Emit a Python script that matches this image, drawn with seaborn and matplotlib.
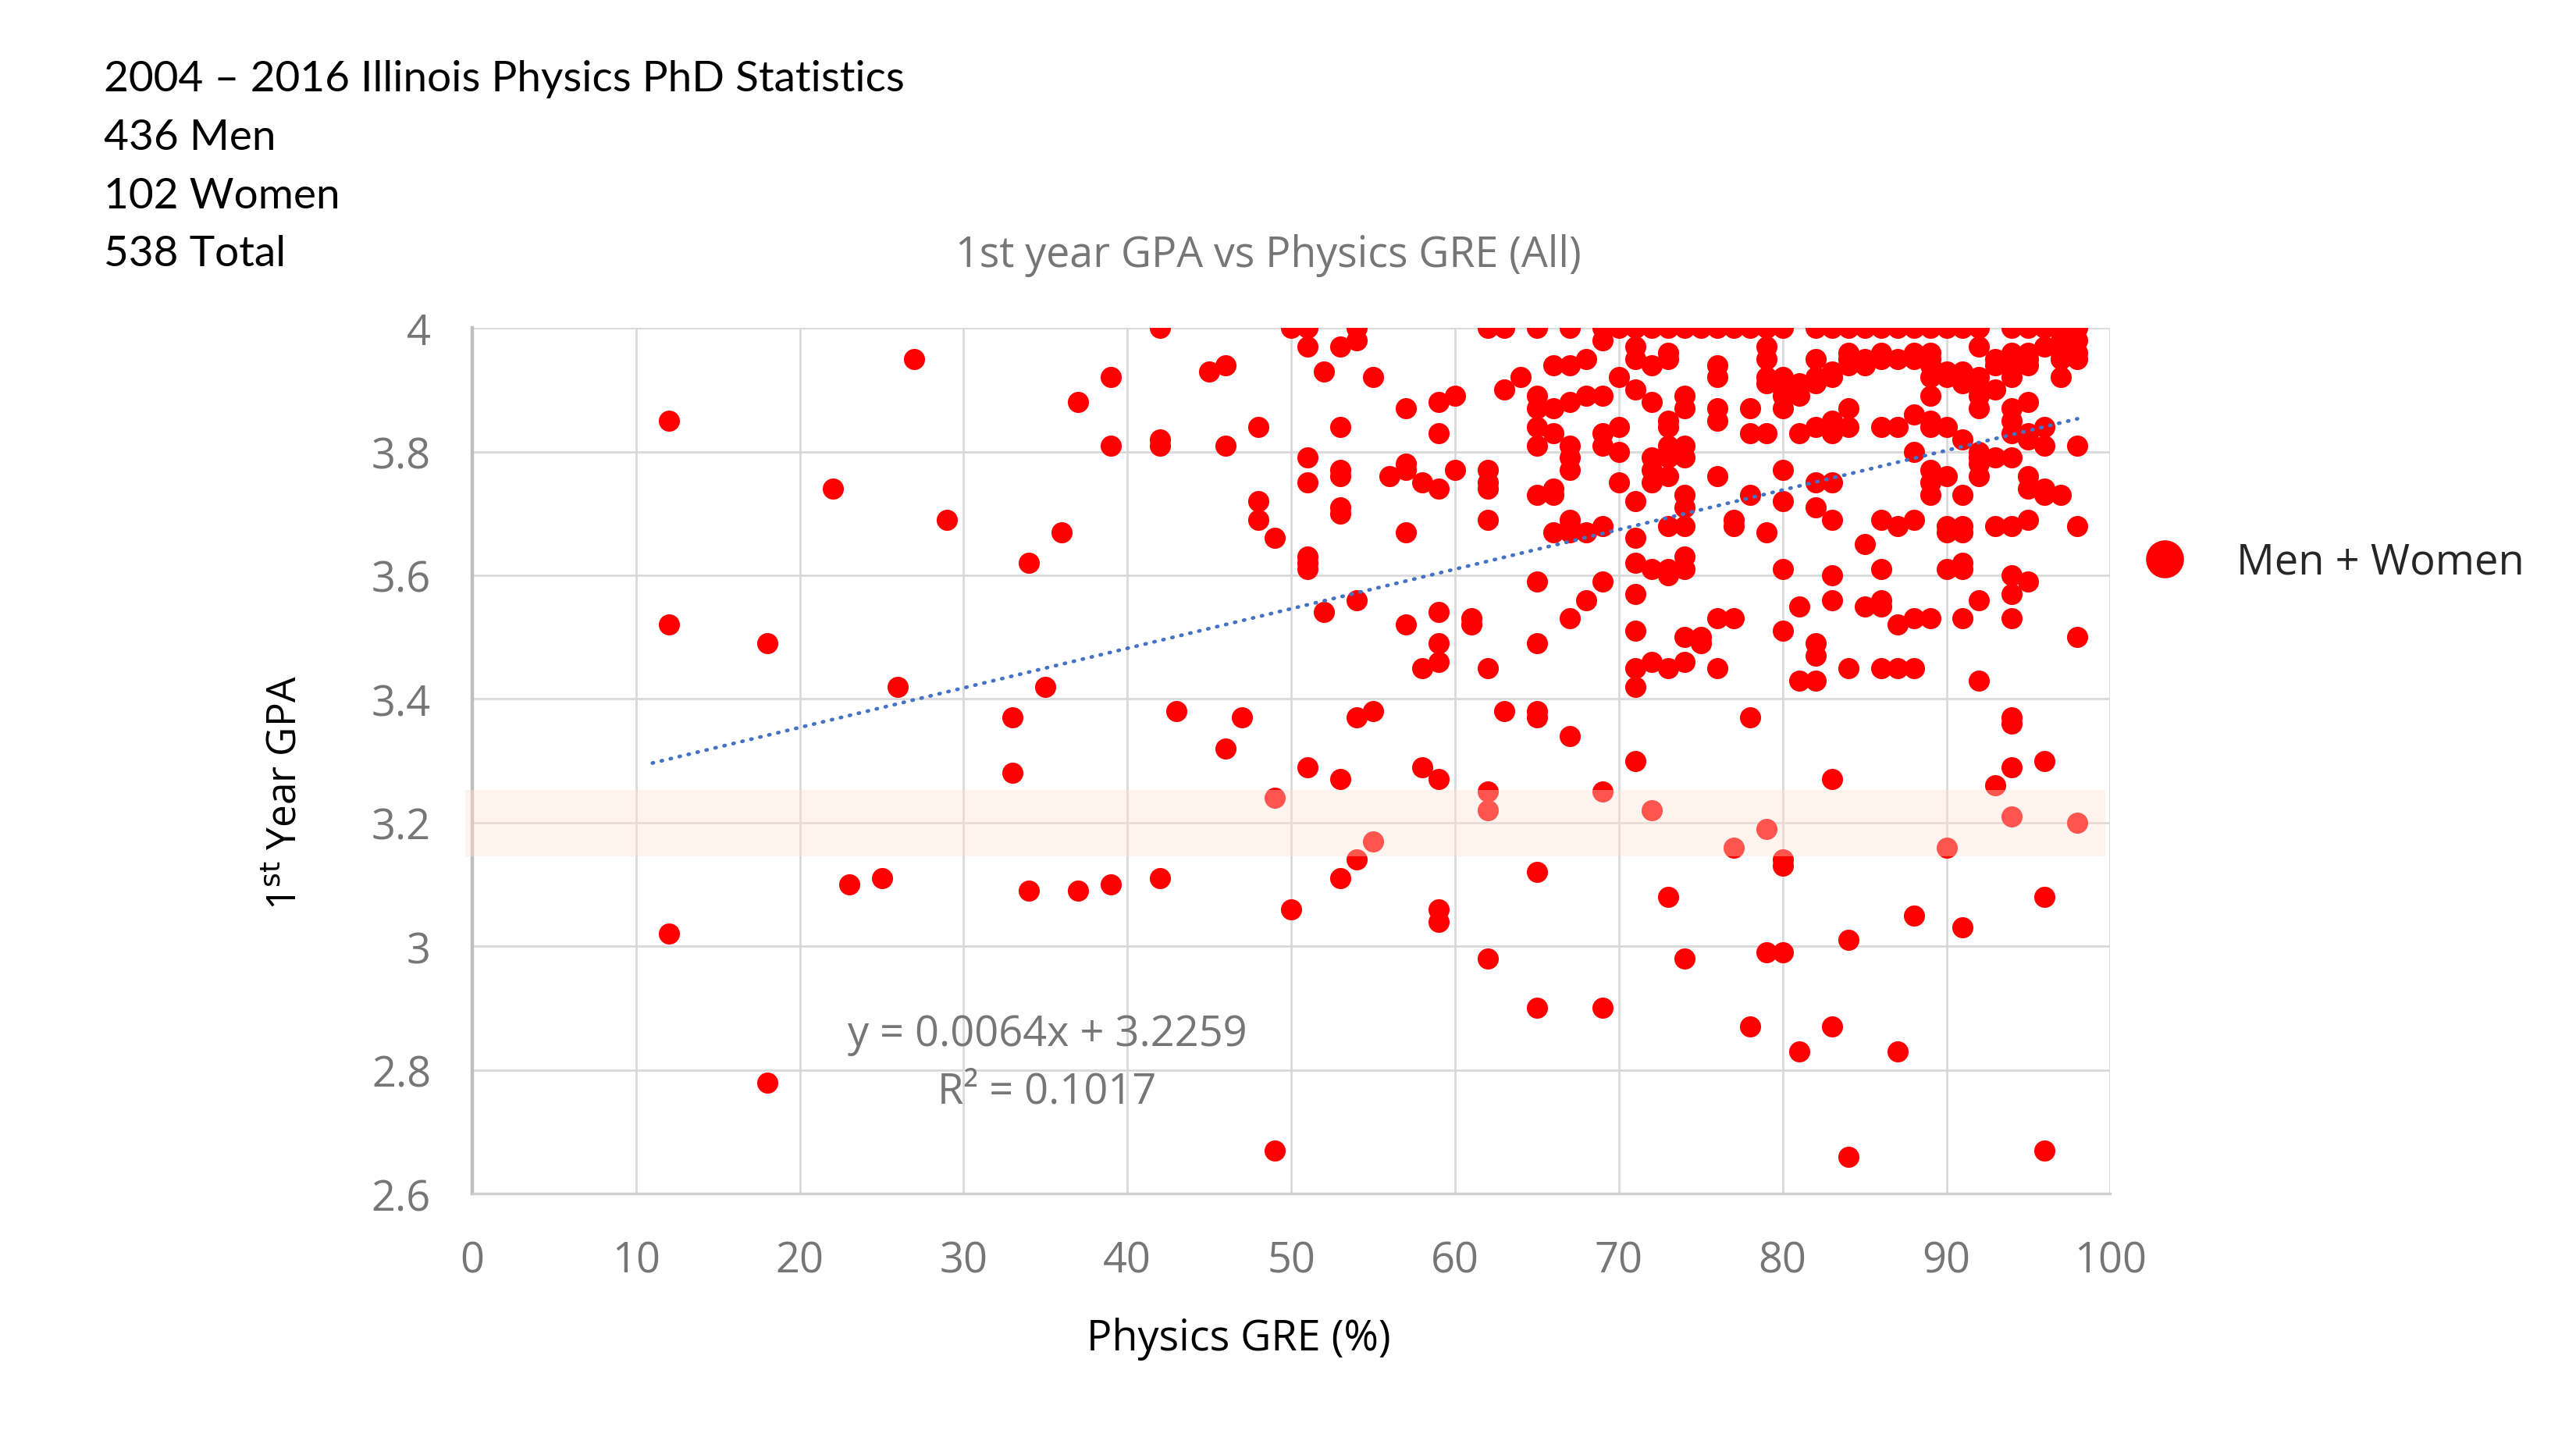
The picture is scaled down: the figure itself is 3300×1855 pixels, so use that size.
import matplotlib
matplotlib.use("Agg")
import matplotlib.pyplot as plt
from matplotlib.lines import Line2D
import numpy as np
import pandas as pd
import seaborn as sns

# GRE percentile columns and the 1st-year GPAs
GRE_COLUMNS = [12, 18, 22, 23, 25, 26, 27, 29, 33, 34, 35, 36, 37, 39, 42, 43, 45, 46, 47, 48,
               49, 50, 51, 52, 53, 54, 55, 56, 57, 58, 59, 60, 61, 62, 63, 64, 65, 66, 67, 68,
               69, 70, 71, 72, 73, 74, 75, 76, 77, 78, 79, 80, 81, 82, 83, 84, 85, 86, 87, 88,
               89, 90, 91, 92, 93, 94, 95, 96, 97, 98]

GPA_COLUMNS = [
    [3.85, 3.52, 3.02],
    [3.49, 2.78],
    [3.74],
    [3.10],
    [3.11],
    [3.42],
    [3.95],
    [3.69],
    [3.37, 3.28],
    [3.62, 3.09],
    [3.42],
    [3.67],
    [3.88, 3.09],
    [3.92, 3.81, 3.10],
    [4.00, 3.82, 3.81, 3.11],
    [3.38],
    [3.93],
    [3.94, 3.81, 3.32],
    [3.37],
    [3.84, 3.72, 3.69],
    [3.66, 3.24, 2.67],
    [4.00, 3.06],
    [4.00, 3.97, 3.79, 3.75, 3.63, 3.62, 3.61, 3.29],
    [3.93, 3.54],
    [3.97, 3.84, 3.77, 3.76, 3.71, 3.70, 3.27, 3.11],
    [4.00, 3.98, 3.56, 3.37, 3.14],
    [3.92, 3.38, 3.17],
    [3.76],
    [3.87, 3.78, 3.77, 3.67, 3.52],
    [3.75, 3.45, 3.29],
    [3.88, 3.83, 3.74, 3.54, 3.49, 3.46, 3.27, 3.06, 3.04],
    [3.89, 3.77],
    [3.53, 3.52],
    [4.00, 3.77, 3.75, 3.74, 3.69, 3.45, 3.25, 3.22, 2.98],
    [4.00, 3.90, 3.38],
    [3.92],
    [4.00, 3.89, 3.87, 3.84, 3.81, 3.73, 3.59, 3.49, 3.38, 3.37, 3.12, 2.90],
    [3.94, 3.87, 3.83, 3.74, 3.73, 3.67],
    [4.00, 3.94, 3.88, 3.81, 3.79, 3.77, 3.69, 3.68, 3.67, 3.53, 3.34],
    [3.95, 3.89, 3.67, 3.56],
    [4.00, 3.98, 3.89, 3.83, 3.81, 3.68, 3.59, 3.25, 2.90],
    [4.00, 3.92, 3.84, 3.80, 3.75],
    [4.00, 3.97, 3.95, 3.90, 3.72, 3.66, 3.62, 3.57, 3.51, 3.45, 3.42, 3.30],
    [4.00, 3.94, 3.88, 3.79, 3.77, 3.75, 3.61, 3.46, 3.22],
    [4.00, 3.96, 3.95, 3.85, 3.84, 3.81, 3.80, 3.79, 3.76, 3.68, 3.61, 3.60, 3.45, 3.08],
    [4.00, 3.89, 3.87, 3.81, 3.79, 3.73, 3.71, 3.68, 3.63, 3.61, 3.50, 3.46, 2.98],
    [4.00, 3.50, 3.49],
    [4.00, 3.94, 3.92, 3.87, 3.85, 3.76, 3.53, 3.45],
    [4.00, 3.69, 3.68, 3.53, 3.16],
    [4.00, 3.87, 3.83, 3.73, 3.37, 2.87],
    [4.00, 3.97, 3.95, 3.92, 3.91, 3.83, 3.67, 3.19, 2.99],
    [4.00, 3.92, 3.90, 3.89, 3.87, 3.77, 3.72, 3.61, 3.51, 3.14, 3.13, 2.99],
    [3.91, 3.89, 3.83, 3.55, 3.43, 2.83],
    [4.00, 3.95, 3.92, 3.91, 3.84, 3.75, 3.71, 3.49, 3.47, 3.43],
    [4.00, 3.93, 3.92, 3.85, 3.83, 3.75, 3.69, 3.60, 3.56, 3.27, 2.87],
    [4.00, 3.96, 3.95, 3.94, 3.87, 3.84, 3.45, 3.01, 2.66],
    [4.00, 3.95, 3.94, 3.65, 3.55],
    [4.00, 3.96, 3.95, 3.84, 3.69, 3.61, 3.56, 3.55, 3.45],
    [4.00, 3.95, 3.84, 3.68, 3.52, 3.45, 2.83],
    [4.00, 3.96, 3.95, 3.86, 3.80, 3.69, 3.53, 3.45, 3.05],
    [4.00, 3.96, 3.95, 3.94, 3.92, 3.89, 3.85, 3.84, 3.77, 3.75, 3.73, 3.53],
    [4.00, 3.93, 3.92, 3.84, 3.76, 3.68, 3.67, 3.61, 3.16],
    [4.00, 3.93, 3.91, 3.82, 3.73, 3.68, 3.67, 3.62, 3.61, 3.53, 3.03],
    [4.00, 3.97, 3.92, 3.90, 3.89, 3.87, 3.80, 3.79, 3.78, 3.76, 3.56, 3.43],
    [3.95, 3.94, 3.90, 3.79, 3.68, 3.26],
    [4.00, 3.96, 3.95, 3.94, 3.92, 3.87, 3.85, 3.83, 3.79, 3.68, 3.60, 3.57, 3.53, 3.37, 3.36,
     3.29, 3.21],
    [4.00, 3.96, 3.95, 3.94, 3.88, 3.83, 3.82, 3.76, 3.74, 3.69, 3.59],
    [4.00, 3.97, 3.84, 3.81, 3.74, 3.73, 3.30, 3.08, 2.67],
    [4.00, 3.98, 3.96, 3.95, 3.92, 3.73],
    [4.00, 3.98, 3.96, 3.95, 3.81, 3.68, 3.50, 3.20],
]

# Excel linear trendline as printed on the chart
TREND_SLOPE = 0.0064
TREND_INTERCEPT = 3.2259
TREND_R2 = 0.1017
TREND_X_RANGE = [11, 98]

# highlighted GPA band
BAND_LOW, BAND_HIGH = 3.146, 3.253

HEADER_LINES = ["2004 \u2013 2016 Illinois Physics PhD Statistics", "436 Men", "102 Women", "538 Total"]
X_TICKS = [0, 10, 20, 30, 40, 50, 60, 70, 80, 90, 100]
Y_TICKS = [2.6, 2.8, 3.0, 3.2, 3.4, 3.6, 3.8, 4.0]
Y_TICK_LABELS = ["2.6", "2.8", "3", "3.2", "3.4", "3.6", "3.8", "4"]

GRAY_TEXT = "#767676"
GRID = "#D9D9D9"


def main():
    rows = []
    for gre, gpas in zip(GRE_COLUMNS, GPA_COLUMNS):
        for gpa in gpas:
            rows.append({"gre": gre, "gpa": gpa})
    df = pd.DataFrame(rows)

    sns.set_theme(style="white")
    plt.rcParams["font.family"] = ["Open Sans", "DejaVu Sans"]

    fig = plt.figure(figsize=(16.5, 9.28), dpi=200)
    ax = fig.add_axes([0.1833, 0.1756, 0.6359, 0.5975])

    sns.scatterplot(data=df, x="gre", y="gpa", color="#FF0000", s=95, linewidth=0,
                    ax=ax, zorder=3, legend=False)

    # round-capped short dashes to look like Excel's round-dot trendline
    trend_x = np.array(TREND_X_RANGE, dtype=float)
    ax.plot(trend_x, TREND_SLOPE * trend_x + TREND_INTERCEPT, linestyle=(0, (0.3, 2.2)),
            color="#4472C4", linewidth=1.7, dash_capstyle="round", zorder=4)

    ax.axhspan(BAND_LOW, BAND_HIGH, xmin=-0.004, xmax=0.997, facecolor=(1.0, 0.878, 0.824),
               alpha=0.38, edgecolor="none", zorder=5, clip_on=False)

    ax.set_xlim(0, 100)
    ax.set_ylim(2.6, 4.0)
    ax.set_xticks(X_TICKS)
    ax.set_yticks(Y_TICKS)
    ax.set_yticklabels(Y_TICK_LABELS)
    ax.tick_params(axis="both", length=0, labelsize=19.5, labelcolor=GRAY_TEXT)
    ax.tick_params(axis="y", pad=19)
    ax.tick_params(axis="x", pad=21)
    ax.grid(True, color=GRID, linewidth=1.0)
    ax.set_axisbelow(True)
    for side in ["top", "right"]:
        ax.spines[side].set_visible(False)
    ax.spines["left"].set_color("#BFBFBF")
    ax.spines["left"].set_linewidth(1.6)
    ax.spines["bottom"].set_color("#D0D0D0")
    ax.spines["bottom"].set_linewidth(1.2)
    ax.set_xlabel("")
    ax.set_ylabel("")

    ax.text(35.1, 2.858, f"y = {TREND_SLOPE}x + {TREND_INTERCEPT}", ha="center", va="center",
            fontsize=19.5, color=GRAY_TEXT, zorder=6)
    ax.text(35.1, 2.765, f"R\u00b2 = {TREND_R2}", ha="center", va="center",
            fontsize=19.5, color=GRAY_TEXT, zorder=6)

    fig.text(0.4923, 0.8235, "1st year GPA vs Physics GRE (All)", ha="center", va="center",
             fontsize=19.3, color=GRAY_TEXT)
    fig.text(0.481, 0.0758, "Physics GRE (%)", ha="center", va="center", fontsize=19.4,
             color="black")
    fig.text(0.111, 0.453, r"1$^{\mathrm{st}}$ Year GPA", ha="center", va="center", rotation=90,
             fontsize=18.5, color="black")

    for i, line in enumerate(HEADER_LINES):
        fig.text(0.0404, 1 - (0.0547 + i * 0.0403), line, ha="left", va="center",
                 fontsize=19.8, color="black", family=["Lato", "DejaVu Sans"])

    handle = Line2D([], [], marker="o", linestyle="none", markersize=17.5,
                    markerfacecolor="#FF0000", markeredgewidth=0)
    fig.legend([handle], ["Men + Women"], loc="center left", bbox_to_anchor=(0.8155, 0.6114),
               frameon=False, fontsize=19.6, handletextpad=1.1, handlelength=1.2)

    fig.savefig("out.png", dpi=200)
    plt.close(fig)


if __name__ == "__main__":
    main()
